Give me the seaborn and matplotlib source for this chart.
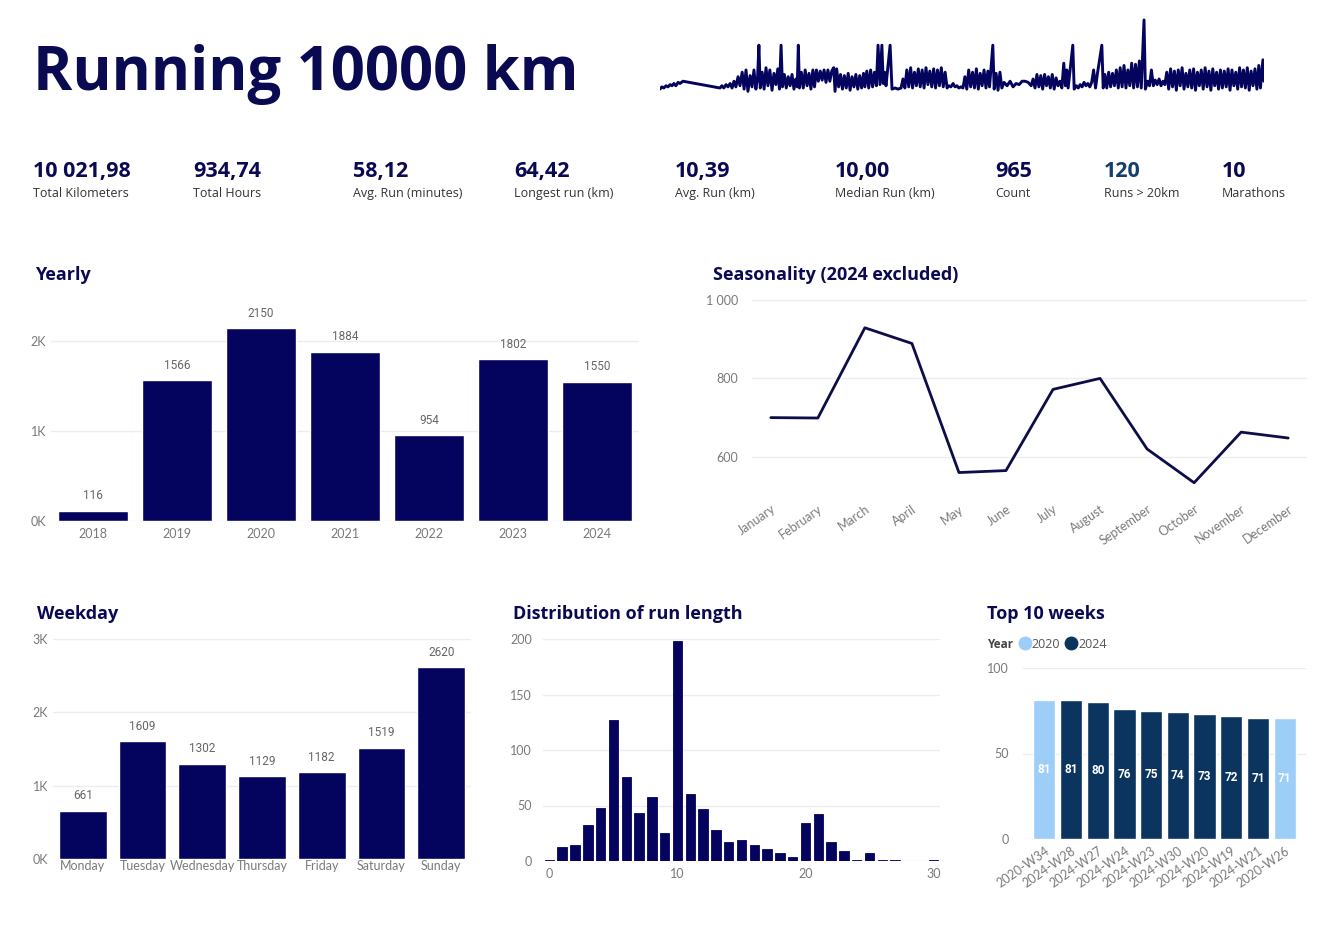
import matplotlib
matplotlib.use('Agg')
import matplotlib.pyplot as plt
from matplotlib.lines import Line2D
from matplotlib.ticker import FuncFormatter
import seaborn as sns
import pandas as pd

# Data
years = ['2018', '2019', '2020', '2021', '2022', '2023', '2024']
year_km = [116, 1566, 2150, 1884, 954, 1802, 1550]

months = ['January', 'February', 'March', 'April', 'May', 'June', 'July',
          'August', 'September', 'October', 'November', 'December']
month_km = [700, 699, 929, 889, 560, 565, 772, 800, 620, 534, 663, 648]

weekdays = ['Monday', 'Tuesday', 'Wednesday', 'Thursday', 'Friday', 'Saturday', 'Sunday']
weekday_km = [661, 1609, 1302, 1129, 1182, 1519, 2620]

length_bins = list(range(31))
length_counts = [1, 13, 14, 32, 48, 127, 76, 43, 58, 25, 198, 60, 47, 28, 17, 19,
                 14, 11, 7, 4, 34, 42, 17, 9, 1, 7, 1, 1, 0, 0, 1]

top_weeks = ['2020-W34', '2024-W28', '2024-W27', '2024-W24', '2024-W23',
             '2024-W30', '2024-W20', '2024-W19', '2024-W21', '2020-W26']
top_week_km = [81, 81, 80, 76, 75, 74, 73, 72, 71, 71]
top_week_year = ['2020', '2024', '2024', '2024', '2024', '2024', '2024', '2024', '2024', '2020']

kpi_values = ['10 021,98', '934,74', '58,12', '64,42', '10,39', '10,00', '965', '120', '10']
kpi_labels = ['Total Kilometers', 'Total Hours', 'Avg. Run (minutes)', 'Longest run (km)',
              'Avg. Run (km)', 'Median Run (km)', 'Count', 'Runs > 20km', 'Marathons']

# run history (days since first run, km) sampled from the sparkline
spark_day = [0, 7, 14, 22, 29, 37, 44, 51, 58, 66, 73, 84,
             219, 226, 233, 241, 248, 256, 263, 270, 277, 285, 292,
             300, 307, 314, 321, 329, 336, 343, 350, 356, 361, 366,
             373, 380, 387, 394, 401, 409, 416, 423, 430, 436, 442, 447,
             454, 461, 468, 475, 482, 489, 496, 501, 505, 509,
             516, 523, 530, 537, 544, 551, 558, 564,
             571, 578, 585, 592, 599, 606, 613, 620, 627, 634, 639, 645,
             652, 659, 666, 673, 680, 687, 694, 701, 708, 715, 722, 729, 736, 743, 748,
             755, 762, 769, 776, 783, 790, 796, 803, 810, 815, 820, 825, 840,
             847, 858, 869, 880,
             887, 894, 901, 908, 915, 922, 929, 936, 943, 950, 957, 964, 971, 978, 985, 992,
             999, 1006, 1013, 1020, 1027, 1034, 1041, 1048,
             1055, 1062, 1070, 1077, 1084, 1091, 1099, 1106,
             1113, 1120, 1127, 1134, 1141, 1148, 1155, 1162, 1169, 1176, 1183, 1190, 1197, 1203,
             1215, 1220, 1227, 1234, 1241, 1248,
             1256, 1267, 1278, 1289, 1300, 1311, 1322, 1333, 1344, 1355,
             1362, 1369, 1376, 1383, 1390, 1397, 1404, 1411, 1418, 1425, 1432, 1439, 1446, 1453,
             1460, 1467, 1474, 1480, 1485, 1490, 1507, 1512,
             1520, 1527, 1534, 1541, 1548, 1555, 1562, 1569, 1576,
             1583, 1590, 1597, 1613, 1618,
             1624, 1631, 1638, 1645, 1652, 1659, 1666, 1673, 1680, 1687, 1694, 1701, 1708, 1715,
             1722, 1729, 1736, 1743, 1750, 1757, 1767, 1772,
             1780, 1787, 1794, 1801, 1808, 1815, 1822, 1829, 1836, 1843,
             1850, 1857, 1864, 1871, 1878, 1885, 1892, 1899, 1906, 1913, 1920, 1927, 1934, 1941,
             1948, 1955, 1962, 1969, 1976, 1983, 1990, 1997, 2004, 2011, 2018, 2025, 2032, 2039,
             2046, 2053, 2060, 2067, 2074, 2081, 2088, 2095, 2102, 2109, 2116, 2123, 2130, 2137,
             2144, 2151, 2158, 2165, 2172, 2179, 2186, 2192, 2201, 2205]
spark_km = [3, 5, 4, 6, 5, 7, 6, 8, 6, 9, 8, 10,
            4, 6, 4, 7, 5, 8, 4, 10, 5, 14, 6,
            18, 3, 20, 1, 15, 5, 20, 3, 12, 42, 4,
            18, 3, 22, 6, 20, 2, 17, 7, 21, 3, 42, 5,
            16, 4, 14, 6, 16, 3, 12, 5, 42, 4,
            18, 4, 20, 6, 17, 3, 20, 5,
            20, 10, 19, 11, 20, 9, 20, 10, 19, 22, 1, 21,
            5, 16, 3, 15, 4, 17, 2, 14, 5, 16, 3, 15, 4, 17, 5,
            19, 4, 20, 5, 18, 6, 42, 7, 42, 8, 18, 6, 42,
            3, 4, 3, 4,
            12, 4, 20, 5, 22, 4, 18, 6, 21, 5, 20, 4, 22, 7, 19, 5,
            21, 4, 20, 6, 22, 5, 18, 4,
            6, 5, 8, 5, 6, 4, 5, 4,
            14, 3, 20, 5, 18, 4, 21, 3, 17, 6, 20, 4, 19, 5,
            42, 3, 17, 2, 18, 4,
            9, 6, 10, 5, 8, 7, 10, 10, 9, 6,
            12, 4, 16, 5, 15, 3, 16, 6, 14, 4, 16, 3, 13, 6,
            10, 4, 26, 6, 20, 4, 42, 3,
            6, 4, 7, 5, 9, 6, 8, 5, 9,
            20, 4, 17, 42, 4,
            16, 4, 18, 5, 17, 6, 20, 4, 22, 5, 24, 4, 20, 6,
            26, 4, 25, 5, 28, 4, 64.42, 3,
            10, 6, 20, 6, 11, 7, 12, 6, 10, 7,
            18, 3, 21, 5, 19, 2, 20, 6, 22, 3, 17, 5, 20, 4,
            21, 2, 18, 6, 20, 3, 22, 5, 19, 2, 21, 6, 18, 3,
            20, 4, 19, 5, 21, 2, 20, 6, 18, 3, 22, 5, 20, 4,
            22, 2, 19, 6, 21, 3, 24, 4, 29, 10]

NAVY = '#04045E'
TITLE = '#0A0A52'
GRAY = '#7A7A7A'
GRID = '#EDEDED'

sns.set_style('white')
plt.rcParams['font.family'] = ['Open Sans', 'DejaVu Sans']

W, H = 1328, 935
fig = plt.figure(figsize=(W / 100, H / 100), dpi=100)


def px_axes(l, t, r, b):
    return fig.add_axes([l / W, 1 - b / H, (r - l) / W, (b - t) / H])


def ftext(x, y, s, **kw):
    fig.text(x / W, 1 - y / H, s, **kw)


def clean(ax):
    sns.despine(ax=ax, left=True, bottom=True)
    ax.tick_params(length=0, labelcolor=GRAY, labelsize=9)
    ax.set_xlabel('')
    ax.set_ylabel('')
    ax.yaxis.grid(True, color=GRID, linewidth=1)
    ax.xaxis.grid(False)
    ax.set_axisbelow(True)
    for t in ax.get_xticklabels() + ax.get_yticklabels():
        t.set_family('Lato')


kfmt = FuncFormatter(lambda v, p: f'{int(v / 1000)}K')

# Header
ftext(33, 90, 'Running 10000 km', fontsize=43, fontweight='bold', color=TITLE)

ax = px_axes(660, 15, 1264, 97)
sns.lineplot(x=spark_day, y=spark_km, ax=ax, color=NAVY, linewidth=2.1,
             sort=False, estimator=None)
ax.set_xlim(0, 2205)
ax.set_ylim(-4, 68.8)
ax.axis('off')

# KPI row
kpi_x = [33, 193, 353, 514, 675, 835, 995, 1104, 1222]
for i, (v, l) in enumerate(zip(kpi_values, kpi_labels)):
    col = '#143F6C' if v == '120' else TITLE
    ftext(kpi_x[i], 177, v, fontsize=15.5, fontweight='bold', color=col)
    ftext(kpi_x[i], 197, l, fontsize=9, color='#333333')

# Yearly
ftext(35, 280, 'Yearly', fontsize=13, fontweight='bold', color=TITLE)
ax = px_axes(51, 300, 639, 521)
sns.barplot(x=years, y=year_km, ax=ax, color=NAVY, width=0.83, saturation=1)
ax.set_xlim(-0.5, 6.5)
ax.set_ylim(0, 2460)
ax.set_yticks([0, 1000, 2000])
ax.yaxis.set_major_formatter(kfmt)
clean(ax)
ax.tick_params(axis='x', pad=5)
ax.bar_label(ax.containers[0], padding=6, color='#666666', fontsize=8.5, family='Roboto')

# Seasonality
ftext(713, 280, 'Seasonality (2024 excluded)', fontsize=13, fontweight='bold', color=TITLE)
ax = px_axes(752, 296, 1307, 500)
sns.lineplot(x=list(range(12)), y=month_km, ax=ax, color='#0D0D4A', linewidth=2)
ax.set_xlim(-0.4, 11.4)
ax.set_ylim(490, 1010)
ax.set_yticks([600, 800, 1000])
ax.yaxis.set_major_formatter(FuncFormatter(lambda v, p: f'{int(v):,}'.replace(',', ' ')))
ax.set_xticks(range(12))
ax.set_xticklabels(months, rotation=35, ha='right', rotation_mode='anchor')
clean(ax)
ax.tick_params(axis='x', pad=2)
ax.tick_params(axis='y', pad=10)

# Weekday
ftext(37, 619, 'Weekday', fontsize=13, fontweight='bold', color=TITLE)
ax = px_axes(53, 639, 471, 859)
sns.barplot(x=weekdays, y=weekday_km, ax=ax, color=NAVY, width=0.8, saturation=1)
ax.set_xlim(-0.5, 6.5)
ax.set_ylim(0, 3000)
ax.set_yticks([0, 1000, 2000, 3000])
ax.yaxis.set_major_formatter(kfmt)
clean(ax)
ax.tick_params(axis='x', pad=1, labelsize=9)
ax.bar_label(ax.containers[0], padding=6, color='#666666', fontsize=8.5, family='Roboto')

# Distribution of run length
ftext(513, 619, 'Distribution of run length', fontsize=13, fontweight='bold', color=TITLE)
ax = px_axes(543, 639, 940, 861)
sns.barplot(x=length_bins, y=length_counts, ax=ax, color=NAVY, width=0.74,
            saturation=1, native_scale=True, edgecolor=NAVY, linewidth=0.6)
ax.set_xlim(-0.5, 30.5)
ax.set_ylim(0, 200)
ax.set_xticks([0, 10, 20, 30])
ax.set_yticks([0, 50, 100, 150, 200])
clean(ax)
ax.tick_params(axis='y', pad=8)
ax.tick_params(axis='x', pad=5)

# Top 10 weeks
ftext(987, 619, 'Top 10 weeks', fontsize=13, fontweight='bold', color=TITLE)
week_df = pd.DataFrame({'week': top_weeks, 'km': top_week_km, 'year': top_week_year})
palette = {'2020': '#9DCEF8', '2024': '#0B355E'}
ax = px_axes(1023, 668, 1306, 839)
sns.barplot(data=week_df, x='week', y='km', hue='year', palette=palette, ax=ax,
            dodge=False, width=0.83, saturation=1, legend=False)
ax.set_xlim(-0.8, 9.8)
ax.set_ylim(0, 100)
ax.set_yticks([0, 50, 100])
ax.set_xticks(range(10))
ax.set_xticklabels(top_weeks, rotation=35, ha='right', rotation_mode='anchor')
clean(ax)
ax.tick_params(axis='y', pad=10)
ax.tick_params(axis='x', pad=4)
for c in ax.containers:
    ax.bar_label(c, label_type='center', color='white', fontsize=8.5,
                 fontweight='bold', family='Roboto')
ftext(987, 648, 'Year', fontsize=8.5, fontweight='bold', color='#444444')
handles = [Line2D([], [], marker='o', ls='', color=palette[y], markersize=9) for y in ['2020', '2024']]
fig.legend(handles, ['2020', '2024'], loc='center left', bbox_to_anchor=(1012 / W, 1 - 644 / H),
           ncol=2, frameon=False, fontsize=9, handletextpad=0.05, columnspacing=0.4,
           labelcolor='#555555', borderpad=0, handlelength=1)

fig.savefig('out.png', dpi=100, facecolor='white')
